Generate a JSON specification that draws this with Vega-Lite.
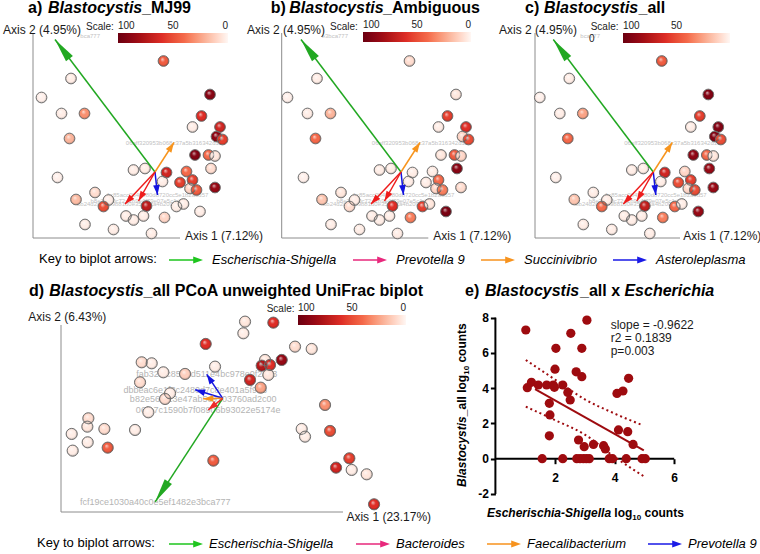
{
"$schema": "https://vega.github.io/schema/vega-lite/v6.json",
"padding": 0,
"background": "white",
"config": {"font": "Liberation Sans", "view": {"stroke": null}},
"datasets": {
"abc": [
{"X":0.017,"Y":0.222,"MJ99":45,"Ambiguous":8,"all":45},
{"X":-0.168,"Y":0.187,"MJ99":3,"Ambiguous":3,"all":3},
{"X":-0.227,"Y":0.149,"MJ99":2,"Ambiguous":2,"all":2},
{"X":-0.187,"Y":0.117,"MJ99":3,"Ambiguous":3,"all":3},
{"X":-0.141,"Y":0.117,"MJ99":30,"Ambiguous":20,"all":25},
{"X":0.110,"Y":0.155,"MJ99":90,"Ambiguous":5,"all":92},
{"X":0.093,"Y":0.112,"MJ99":60,"Ambiguous":55,"all":55},
{"X":0.075,"Y":0.090,"MJ99":3,"Ambiguous":3,"all":3},
{"X":0.130,"Y":0.090,"MJ99":65,"Ambiguous":60,"all":92},
{"X":0.123,"Y":0.071,"MJ99":88,"Ambiguous":10,"all":92},
{"X":0.135,"Y":0.065,"MJ99":55,"Ambiguous":50,"all":50},
{"X":-0.171,"Y":0.067,"MJ99":20,"Ambiguous":40,"all":40},
{"X":0.080,"Y":0.034,"MJ99":92,"Ambiguous":5,"all":88},
{"X":0.107,"Y":0.034,"MJ99":40,"Ambiguous":45,"all":40},
{"X":0.120,"Y":0.032,"MJ99":5,"Ambiguous":10,"all":5},
{"X":0.112,"Y":0.007,"MJ99":8,"Ambiguous":90,"all":85},
{"X":0.023,"Y":-0.001,"MJ99":65,"Ambiguous":3,"all":65},
{"X":0.063,"Y":0.001,"MJ99":40,"Ambiguous":3,"all":10},
{"X":-0.043,"Y":0.004,"MJ99":3,"Ambiguous":3,"all":3},
{"X":-0.020,"Y":0.007,"MJ99":3,"Ambiguous":3,"all":3},
{"X":-0.195,"Y":-0.011,"MJ99":2,"Ambiguous":2,"all":2},
{"X":0.015,"Y":-0.019,"MJ99":3,"Ambiguous":3,"all":3},
{"X":0.050,"Y":-0.021,"MJ99":55,"Ambiguous":3,"all":50},
{"X":0.075,"Y":-0.016,"MJ99":55,"Ambiguous":40,"all":55},
{"X":0.070,"Y":-0.033,"MJ99":10,"Ambiguous":10,"all":10},
{"X":0.083,"Y":-0.036,"MJ99":45,"Ambiguous":35,"all":50},
{"X":0.120,"Y":-0.031,"MJ99":85,"Ambiguous":8,"all":85},
{"X":-0.120,"Y":-0.041,"MJ99":8,"Ambiguous":5,"all":3},
{"X":-0.158,"Y":-0.055,"MJ99":18,"Ambiguous":15,"all":15},
{"X":-0.093,"Y":-0.056,"MJ99":3,"Ambiguous":3,"all":3},
{"X":-0.103,"Y":-0.069,"MJ99":50,"Ambiguous":8,"all":40},
{"X":-0.017,"Y":-0.068,"MJ99":72,"Ambiguous":60,"all":70},
{"X":0.043,"Y":-0.069,"MJ99":3,"Ambiguous":55,"all":40},
{"X":0.057,"Y":-0.064,"MJ99":3,"Ambiguous":5,"all":3},
{"X":-0.058,"Y":-0.088,"MJ99":3,"Ambiguous":3,"all":3},
{"X":-0.043,"Y":-0.096,"MJ99":3,"Ambiguous":3,"all":3},
{"X":-0.023,"Y":-0.088,"MJ99":3,"Ambiguous":3,"all":3},
{"X":0.019,"Y":-0.091,"MJ99":10,"Ambiguous":35,"all":35},
{"X":0.090,"Y":-0.079,"MJ99":3,"Ambiguous":95,"all":85},
{"X":-0.140,"Y":-0.105,"MJ99":3,"Ambiguous":3,"all":3},
{"X":-0.083,"Y":-0.115,"MJ99":3,"Ambiguous":3,"all":3},
{"X":-0.007,"Y":-0.123,"MJ99":3,"Ambiguous":3,"all":3}
],
"arrABC": [
{"feature":"fcf19ce1030a40c0e5ef1482e3bca777","genus":"Escherischia-Shigella","X0":0,"Y0":0,"X":-0.200,"Y":0.265},
{"feature":"06aff320953b068c37a5b316342d1e","genus":"Succinivibrio","X0":0,"Y0":0,"X":0.038,"Y":0.059},
{"feature":"1c85acc0b49480d8720cc5e1b2a9d57","genus":"Asteroleplasma","X0":0,"Y0":0,"X":0.005,"Y":-0.046},
{"feature":"bb24d2c6f1a9b81d0e35f7c2a4b200","genus":"Prevotella 9","X0":0,"Y0":0,"X":-0.060,"Y":-0.064},
{"feature":"b8e7d3f0c72a1b9e4f79e07e5c1d8a","genus":"Prevotella 9","X0":0,"Y0":0,"X":-0.033,"Y":-0.058}
],
"ptsD": [
{"X":0.0447,"Y":0.1533,"all":5},
{"X":0.1013,"Y":0.1513,"all":60},
{"X":0.0413,"Y":0.13,"all":3},
{"X":-0.034,"Y":0.1087,"all":60},
{"X":0.1447,"Y":0.1033,"all":8},
{"X":0.178,"Y":0.0987,"all":5},
{"X":0.118,"Y":0.0767,"all":85},
{"X":0.0847,"Y":0.0767,"all":5},
{"X":0.078,"Y":0.0653,"all":75},
{"X":0.0947,"Y":0.0667,"all":60},
{"X":0.0913,"Y":0.0467,"all":5},
{"X":0.0547,"Y":0.0367,"all":65},
{"X":0.0760,"Y":0.0213,"all":25},
{"X":-0.0153,"Y":0.0633,"all":3},
{"X":-0.0753,"Y":0.0487,"all":12},
{"X":-0.1187,"Y":0.052,"all":3},
{"X":-0.162,"Y":0.072,"all":8},
{"X":-0.142,"Y":0.07,"all":3},
{"X":-0.1653,"Y":0.032,"all":8},
{"X":-0.1053,"Y":0.01,"all":3},
{"X":-0.1153,"Y":-0.0013,"all":8},
{"X":-0.1487,"Y":-0.028,"all":3},
{"X":-0.1753,"Y":-0.0633,"all":3},
{"X":-0.2687,"Y":-0.04,"all":8},
{"X":-0.2707,"Y":-0.0567,"all":5},
{"X":-0.2367,"Y":-0.0613,"all":8},
{"X":-0.302,"Y":-0.0713,"all":3},
{"X":-0.27,"Y":-0.088,"all":3},
{"X":-0.3,"Y":-0.1047,"all":3},
{"X":-0.23,"Y":-0.0987,"all":45},
{"X":-0.0187,"Y":-0.1247,"all":45},
{"X":0.2047,"Y":-0.0133,"all":30},
{"X":0.2147,"Y":-0.0653,"all":50},
{"X":0.158,"Y":-0.0613,"all":3},
{"X":0.1647,"Y":-0.0767,"all":3},
{"X":0.2533,"Y":-0.12,"all":55},
{"X":0.2267,"Y":-0.1387,"all":65},
{"X":0.258,"Y":-0.1433,"all":3},
{"X":0.288,"Y":-0.152,"all":5},
{"X":0.3027,"Y":-0.212,"all":60}
],
"arrD": [
{"feature":"fcf19ce1030a40c0e5ef1482e3bca777","genus":"Escherischia-Shigella","X0":0,"Y0":0,"X":-0.135,"Y":-0.207},
{"feature":"fab32f1c8575d511e4bc978e0f2a13","genus":"Prevotella 9","X0":0,"Y0":0,"X":-0.032,"Y":0.048},
{"feature":"dbbeac6e1f3c2480d7c8e401a5f996","genus":"Prevotella 9","X0":0,"Y0":0,"X":-0.055,"Y":0.017},
{"feature":"b82e569f13e47ab5c9103760ad2c00","genus":"Faecalibacterium","X0":0,"Y0":0,"X":-0.039,"Y":-0.001},
{"feature":"06fa7c1590b7f08906b93022e5174e","genus":"Bacteroides","X0":0,"Y0":0,"X":-0.029,"Y":-0.023}
],
"esc": [
{"x":1.02,"y":7.30},{"x":1.07,"y":4.03},{"x":1.21,"y":4.33},{"x":1.44,"y":4.18},{"x":1.57,"y":0},
{"x":1.72,"y":4.18},{"x":1.81,"y":3.14},{"x":1.83,"y":2.48},{"x":1.81,"y":1.30},{"x":1.94,"y":4.18},
{"x":1.98,"y":4.05},{"x":2.00,"y":5.08},{"x":2.03,"y":6.26},{"x":2.26,"y":0},{"x":2.26,"y":4.18},
{"x":2.43,"y":3.76},{"x":2.51,"y":3.33},{"x":2.53,"y":7.11},{"x":2.71,"y":4.93},{"x":2.79,"y":1.06},
{"x":2.73,"y":0},{"x":2.90,"y":4.65},{"x":2.90,"y":6.26},{"x":2.84,"y":0},{"x":2.98,"y":0.68},
{"x":3.07,"y":7.86},{"x":2.95,"y":0},{"x":3.05,"y":0},{"x":3.15,"y":0},{"x":3.29,"y":0.81},
{"x":3.63,"y":0.74},{"x":3.69,"y":0.55},{"x":3.82,"y":0},{"x":3.93,"y":0},{"x":4.08,"y":3.70},
{"x":4.28,"y":3.84},{"x":4.39,"y":0},{"x":4.47,"y":4.56},{"x":4.13,"y":1.63},{"x":4.44,"y":1.53},
{"x":4.62,"y":0.81},{"x":4.92,"y":0},{"x":5.03,"y":0}
],
"reg": [{"x":1.33,"y":3.95},{"x":4.98,"y":0.47}],
"band": [
{"x":1.02,"y":5.6,"b":"upper"},{"x":2,"y":4.49,"b":"upper"},{"x":3,"y":3.37,"b":"upper"},{"x":4,"y":2.56,"b":"upper"},{"x":4.92,"y":1.91,"b":"upper"},
{"x":1.02,"y":2.95,"b":"lower"},{"x":2,"y":2.19,"b":"lower"},{"x":3,"y":1.37,"b":"lower"},{"x":4,"y":0.1,"b":"lower"},{"x":5.0,"y":-1.02,"b":"lower"}
],
"key1": [{"genus":"Escherischia-Shigella"},{"genus":"Prevotella 9"},{"genus":"Succinivibrio"},{"genus":"Asteroleplasma"}],
"key2": [{"genus":"Escherischia-Shigella"},{"genus":"Bacteroides"},{"genus":"Faecalibacterium"},{"genus":"Prevotella 9"}]
},
"spacing": 0,
"resolve": {"scale": {"x": "independent", "y": "independent", "color": "independent", "fill": "independent", "stroke": "independent"}, "legend": {"color": "independent"}},
"vconcat": [
{
"spacing": 0,
"bounds": "flush",
"resolve": {"scale": {"x": "independent", "y": "independent", "color": "independent", "fill": "independent", "stroke": "independent"}, "legend": {"color": "independent"}},
"hconcat": [
{
"width": 250, "height": 245,
"encoding": {
"x": {"field": "X", "type": "quantitative", "scale": {"domain": [-0.31, 0.19], "nice": false, "zero": false}, "axis": null},
"y": {"field": "Y", "type": "quantitative", "scale": {"domain": [-0.146, 0.344], "nice": false, "zero": false}, "axis": null}
},
"layer": [
{"data": {"values": [{"X":-0.244,"Y":0.278,"X2":-0.244,"Y2":-0.132},{"X":-0.244,"Y":-0.132,"X2":0.05,"Y2":-0.132}]}, "mark": {"type": "rule", "color": "#8c8c8c", "strokeWidth": 1}, "encoding": {"x2": {"field": "X2"}, "y2": {"field": "Y2"}}},
{"data": {"name": "arrABC"}, "transform": [{"filter": "datum.genus !== 'Escherischia-Shigella'"}], "mark": {"type": "text", "fontSize": 6, "color": "#c2c2c2", "align": "center", "baseline": "middle"}, "encoding": {"text": {"field": "feature", "type": "nominal"}}},
{"data": {"values": [{"X":-0.11,"Y":0.272,"t":"bca777"}]}, "mark": {"type": "text", "fontSize": 6, "color": "#c2c2c2", "align": "right", "baseline": "middle"}, "encoding": {"text": {"field": "t", "type": "nominal"}}},
{"data": {"name": "abc"}, "mark": {"type": "point", "shape": "circle", "filled": true, "size": 115, "opacity": 1, "strokeWidth": 0},
 "encoding": {"color": {"field": "MJ99", "type": "quantitative", "scale": {"domain": [100, 0], "range": ["#6b0010","#a50f15","#de2d26","#f4694a","#fbb59c","#fff7f4"], "nice": false, "zero": false},
   "legend": {"orient": "none", "legendX": 118, "legendY": 33, "direction": "horizontal", "title": null, "gradientLength": 110, "gradientThickness": 10, "gradientStrokeWidth": 0, "labelOffset": -22, "labelFontSize": 10, "labelColor": "#222222", "values": [100, 50, 0], "labelOverlap": false}}}},
{"data": {"name": "abc"}, "mark": {"type": "point", "shape": "circle", "filled": true, "size": 115, "opacity": 1, "stroke": "#6f6f6f", "strokeWidth": 1, "strokeOpacity": 1,
 "fill": {"gradient": "radial", "x1": 0.38, "y1": 0.32, "r1": 0, "x2": 0.5, "y2": 0.5, "r2": 0.5, "stops": [{"offset": 0, "color": "rgba(255,255,255,0.7)"}, {"offset": 0.45, "color": "rgba(255,255,255,0)"}, {"offset": 0.75, "color": "rgba(0,0,0,0)"}, {"offset": 1, "color": "rgba(0,0,0,0.3)"}]}}},
{"data": {"name": "arrABC"}, "mark": {"type": "rule", "strokeWidth": 1.5}, "encoding": {"x": {"field": "X0", "type": "quantitative"}, "y": {"field": "Y0", "type": "quantitative"}, "x2": {"field": "X"}, "y2": {"field": "Y"}, "stroke": {"field": "genus", "type": "nominal", "scale": {"domain": ["Escherischia-Shigella","Prevotella 9","Succinivibrio","Asteroleplasma"], "range": ["#22a822","#ee1c1c","#f7941d","#1414e0"]}, "legend": null}}},
{"data": {"name": "arrABC"}, "transform": [{"filter": "datum.genus === 'Escherischia-Shigella'"}, {"calculate": "atan2(datum.X, datum.Y) * 180 / PI", "as": "angle"}], "mark": {"type": "point", "filled": true, "opacity": 1, "shape": "M0,0L-0.18,1L0.18,1Z", "size": 2304, "strokeWidth": 0}, "encoding": {"angle": {"field": "angle", "type": "quantitative", "scale": null}, "fill": {"field": "genus", "type": "nominal", "scale": {"domain": ["Escherischia-Shigella","Prevotella 9","Succinivibrio","Asteroleplasma"], "range": ["#22a822","#ee1c1c","#f7941d","#1414e0"]}, "legend": null}}},
{"data": {"name": "arrABC"}, "transform": [{"filter": "datum.genus !== 'Escherischia-Shigella'"}, {"calculate": "atan2(datum.X, datum.Y) * 180 / PI", "as": "angle"}], "mark": {"type": "point", "filled": true, "opacity": 1, "shape": "M0,0L-0.33,1L0.33,1Z", "size": 400, "strokeWidth": 0}, "encoding": {"angle": {"field": "angle", "type": "quantitative", "scale": null}, "fill": {"field": "genus", "type": "nominal", "scale": {"domain": ["Escherischia-Shigella","Prevotella 9","Succinivibrio","Asteroleplasma"], "range": ["#22a822","#ee1c1c","#f7941d","#1414e0"]}, "legend": null}}},
{"data": {"values": [{"X":-0.254,"Y":0.3174,"t":"a)"},{"X":-0.026,"Y":0.3174,"t":"_MJ99"}]}, "mark": {"type": "text", "fontSize": 16, "fontWeight": "bold", "align": "left", "baseline": "alphabetic", "color": "black"}, "encoding": {"text": {"field": "t", "type": "nominal"}}},
{"data": {"values": [{"X":-0.214,"Y":0.3174,"t":"Blastocystis"}]}, "mark": {"type": "text", "fontSize": 16, "fontWeight": "bold", "fontStyle": "italic", "align": "left", "baseline": "alphabetic", "color": "black"}, "encoding": {"text": {"field": "t", "type": "nominal"}}},
{"data": {"values": [{"X":-0.304,"Y":0.284,"t":"Axis 2 (4.95%)"},{"X":0.06,"Y":-0.128,"t":"Axis 1 (7.12%)"}]}, "mark": {"type": "text", "fontSize": 12, "align": "left", "baseline": "middle", "color": "#1a1a1a"}, "encoding": {"text": {"field": "t", "type": "nominal"}}},
{"data": {"values": [{"X":-0.138,"Y":0.2848,"t":"Scale:"}]}, "mark": {"type": "text", "fontSize": 10, "align": "left", "baseline": "alphabetic", "color": "#222222"}, "encoding": {"text": {"field": "t", "type": "nominal"}}}
]
},
{
"width": 250, "height": 245,
"encoding": {
"x": {"field": "X", "type": "quantitative", "scale": {"domain": [-0.302, 0.198], "nice": false, "zero": false}, "axis": null},
"y": {"field": "Y", "type": "quantitative", "scale": {"domain": [-0.146, 0.344], "nice": false, "zero": false}, "axis": null}
},
"layer": [
{"data": {"values": [{"X":-0.2386,"Y":0.278,"X2":-0.2386,"Y2":-0.132},{"X":-0.2386,"Y":-0.132,"X2":0.0546,"Y2":-0.132}]}, "mark": {"type": "rule", "color": "#8c8c8c", "strokeWidth": 1}, "encoding": {"x2": {"field": "X2"}, "y2": {"field": "Y2"}}},
{"data": {"name": "arrABC"}, "transform": [{"filter": "datum.genus !== 'Escherischia-Shigella'"}], "mark": {"type": "text", "fontSize": 6, "color": "#c2c2c2", "align": "center", "baseline": "middle"}, "encoding": {"text": {"field": "feature", "type": "nominal"}}},
{"data": {"values": [{"X":-0.106,"Y":0.272,"t":"e3bca777"}]}, "mark": {"type": "text", "fontSize": 6, "color": "#c2c2c2", "align": "right", "baseline": "middle"}, "encoding": {"text": {"field": "t", "type": "nominal"}}},
{"data": {"name": "abc"}, "mark": {"type": "point", "shape": "circle", "filled": true, "size": 115, "opacity": 1, "strokeWidth": 0},
 "encoding": {"color": {"field": "Ambiguous", "type": "quantitative", "scale": {"domain": [100, 0], "range": ["#6b0010","#a50f15","#de2d26","#f4694a","#fbb59c","#fff7f4"], "nice": false, "zero": false},
   "legend": {"orient": "none", "legendX": 113, "legendY": 32, "direction": "horizontal", "title": null, "gradientLength": 108, "gradientThickness": 10, "gradientStrokeWidth": 0, "labelOffset": -22, "labelFontSize": 10, "labelColor": "#222222", "values": [100, 50, 0], "labelOverlap": false}}}},
{"data": {"name": "abc"}, "mark": {"type": "point", "shape": "circle", "filled": true, "size": 115, "opacity": 1, "stroke": "#6f6f6f", "strokeWidth": 1, "strokeOpacity": 1,
 "fill": {"gradient": "radial", "x1": 0.38, "y1": 0.32, "r1": 0, "x2": 0.5, "y2": 0.5, "r2": 0.5, "stops": [{"offset": 0, "color": "rgba(255,255,255,0.7)"}, {"offset": 0.45, "color": "rgba(255,255,255,0)"}, {"offset": 0.75, "color": "rgba(0,0,0,0)"}, {"offset": 1, "color": "rgba(0,0,0,0.3)"}]}}},
{"data": {"name": "arrABC"}, "mark": {"type": "rule", "strokeWidth": 1.5}, "encoding": {"x": {"field": "X0", "type": "quantitative"}, "y": {"field": "Y0", "type": "quantitative"}, "x2": {"field": "X"}, "y2": {"field": "Y"}, "stroke": {"field": "genus", "type": "nominal", "scale": {"domain": ["Escherischia-Shigella","Prevotella 9","Succinivibrio","Asteroleplasma"], "range": ["#22a822","#ee1c1c","#f7941d","#1414e0"]}, "legend": null}}},
{"data": {"name": "arrABC"}, "transform": [{"filter": "datum.genus === 'Escherischia-Shigella'"}, {"calculate": "atan2(datum.X, datum.Y) * 180 / PI", "as": "angle"}], "mark": {"type": "point", "filled": true, "opacity": 1, "shape": "M0,0L-0.18,1L0.18,1Z", "size": 2304, "strokeWidth": 0}, "encoding": {"angle": {"field": "angle", "type": "quantitative", "scale": null}, "fill": {"field": "genus", "type": "nominal", "scale": {"domain": ["Escherischia-Shigella","Prevotella 9","Succinivibrio","Asteroleplasma"], "range": ["#22a822","#ee1c1c","#f7941d","#1414e0"]}, "legend": null}}},
{"data": {"name": "arrABC"}, "transform": [{"filter": "datum.genus !== 'Escherischia-Shigella'"}, {"calculate": "atan2(datum.X, datum.Y) * 180 / PI", "as": "angle"}], "mark": {"type": "point", "filled": true, "opacity": 1, "shape": "M0,0L-0.33,1L0.33,1Z", "size": 400, "strokeWidth": 0}, "encoding": {"angle": {"field": "angle", "type": "quantitative", "scale": null}, "fill": {"field": "genus", "type": "nominal", "scale": {"domain": ["Escherischia-Shigella","Prevotella 9","Succinivibrio","Asteroleplasma"], "range": ["#22a822","#ee1c1c","#f7941d","#1414e0"]}, "legend": null}}},
{"data": {"values": [{"X":-0.2606,"Y":0.3174,"t":"b)"},{"X":-0.036,"Y":0.3174,"t":"_Ambiguous"}]}, "mark": {"type": "text", "fontSize": 16, "fontWeight": "bold", "align": "left", "baseline": "alphabetic", "color": "black"}, "encoding": {"text": {"field": "t", "type": "nominal"}}},
{"data": {"values": [{"X":-0.2234,"Y":0.3174,"t":"Blastocystis"}]}, "mark": {"type": "text", "fontSize": 16, "fontWeight": "bold", "fontStyle": "italic", "align": "left", "baseline": "alphabetic", "color": "black"}, "encoding": {"text": {"field": "t", "type": "nominal"}}},
{"data": {"values": [{"X":-0.308,"Y":0.284,"t":"Axis 2 (4.95%)"},{"X":0.0646,"Y":-0.128,"t":"Axis 1 (7.12%)"}]}, "mark": {"type": "text", "fontSize": 12, "align": "left", "baseline": "middle", "color": "#1a1a1a"}, "encoding": {"text": {"field": "t", "type": "nominal"}}},
{"data": {"values": [{"X":-0.142,"Y":0.2848,"t":"Scale:"}]}, "mark": {"type": "text", "fontSize": 10, "align": "left", "baseline": "alphabetic", "color": "#222222"}, "encoding": {"text": {"field": "t", "type": "nominal"}}}
]
},
{
"width": 260, "height": 245,
"encoding": {
"x": {"field": "X", "type": "quantitative", "scale": {"domain": [-0.3066, 0.2134], "nice": false, "zero": false}, "axis": null},
"y": {"field": "Y", "type": "quantitative", "scale": {"domain": [-0.146, 0.344], "nice": false, "zero": false}, "axis": null}
},
"layer": [
{"data": {"values": [{"X":-0.2366,"Y":0.278,"X2":-0.2366,"Y2":-0.132},{"X":-0.2366,"Y":-0.132,"X2":0.0534,"Y2":-0.132}]}, "mark": {"type": "rule", "color": "#8c8c8c", "strokeWidth": 1}, "encoding": {"x2": {"field": "X2"}, "y2": {"field": "Y2"}}},
{"data": {"name": "arrABC"}, "transform": [{"filter": "datum.genus !== 'Escherischia-Shigella'"}], "mark": {"type": "text", "fontSize": 6, "color": "#c2c2c2", "align": "center", "baseline": "middle"}, "encoding": {"text": {"field": "feature", "type": "nominal"}}},
{"data": {"values": [{"X":-0.1066,"Y":0.272,"t":"bca777"}]}, "mark": {"type": "text", "fontSize": 6, "color": "#c2c2c2", "align": "right", "baseline": "middle"}, "encoding": {"text": {"field": "t", "type": "nominal"}}},
{"data": {"name": "abc"}, "mark": {"type": "point", "shape": "circle", "filled": true, "size": 115, "opacity": 1, "strokeWidth": 0},
 "encoding": {"color": {"field": "all", "type": "quantitative", "scale": {"domain": [100, 0], "range": ["#6b0010","#a50f15","#de2d26","#f4694a","#fbb59c","#fff7f4"], "nice": false, "zero": false},
   "legend": {"orient": "none", "legendX": 123, "legendY": 33, "direction": "horizontal", "title": null, "gradientLength": 107, "gradientThickness": 10, "gradientStrokeWidth": 0, "labelOffset": -22, "labelFontSize": 10, "labelColor": "#222222", "values": [100, 50], "labelOverlap": false}}}},
{"data": {"name": "abc"}, "mark": {"type": "point", "shape": "circle", "filled": true, "size": 115, "opacity": 1, "stroke": "#6f6f6f", "strokeWidth": 1, "strokeOpacity": 1,
 "fill": {"gradient": "radial", "x1": 0.38, "y1": 0.32, "r1": 0, "x2": 0.5, "y2": 0.5, "r2": 0.5, "stops": [{"offset": 0, "color": "rgba(255,255,255,0.7)"}, {"offset": 0.45, "color": "rgba(255,255,255,0)"}, {"offset": 0.75, "color": "rgba(0,0,0,0)"}, {"offset": 1, "color": "rgba(0,0,0,0.3)"}]}}},
{"data": {"name": "arrABC"}, "mark": {"type": "rule", "strokeWidth": 1.5}, "encoding": {"x": {"field": "X0", "type": "quantitative"}, "y": {"field": "Y0", "type": "quantitative"}, "x2": {"field": "X"}, "y2": {"field": "Y"}, "stroke": {"field": "genus", "type": "nominal", "scale": {"domain": ["Escherischia-Shigella","Prevotella 9","Succinivibrio","Asteroleplasma"], "range": ["#22a822","#ee1c1c","#f7941d","#1414e0"]}, "legend": null}}},
{"data": {"name": "arrABC"}, "transform": [{"filter": "datum.genus === 'Escherischia-Shigella'"}, {"calculate": "atan2(datum.X, datum.Y) * 180 / PI", "as": "angle"}], "mark": {"type": "point", "filled": true, "opacity": 1, "shape": "M0,0L-0.18,1L0.18,1Z", "size": 2304, "strokeWidth": 0}, "encoding": {"angle": {"field": "angle", "type": "quantitative", "scale": null}, "fill": {"field": "genus", "type": "nominal", "scale": {"domain": ["Escherischia-Shigella","Prevotella 9","Succinivibrio","Asteroleplasma"], "range": ["#22a822","#ee1c1c","#f7941d","#1414e0"]}, "legend": null}}},
{"data": {"name": "arrABC"}, "transform": [{"filter": "datum.genus !== 'Escherischia-Shigella'"}, {"calculate": "atan2(datum.X, datum.Y) * 180 / PI", "as": "angle"}], "mark": {"type": "point", "filled": true, "opacity": 1, "shape": "M0,0L-0.33,1L0.33,1Z", "size": 400, "strokeWidth": 0}, "encoding": {"angle": {"field": "angle", "type": "quantitative", "scale": null}, "fill": {"field": "genus", "type": "nominal", "scale": {"domain": ["Escherischia-Shigella","Prevotella 9","Succinivibrio","Asteroleplasma"], "range": ["#22a822","#ee1c1c","#f7941d","#1414e0"]}, "legend": null}}},
{"data": {"values": [{"X":-0.2566,"Y":0.3174,"t":"c)"},{"X":-0.0296,"Y":0.3174,"t":"_all"}]}, "mark": {"type": "text", "fontSize": 16, "fontWeight": "bold", "align": "left", "baseline": "alphabetic", "color": "black"}, "encoding": {"text": {"field": "t", "type": "nominal"}}},
{"data": {"values": [{"X":-0.2186,"Y":0.3174,"t":"Blastocystis"}]}, "mark": {"type": "text", "fontSize": 16, "fontWeight": "bold", "fontStyle": "italic", "align": "left", "baseline": "alphabetic", "color": "black"}, "encoding": {"text": {"field": "t", "type": "nominal"}}},
{"data": {"values": [{"X":-0.3086,"Y":0.284,"t":"Axis 2 (4.95%)"},{"X":0.06,"Y":-0.128,"t":"Axis 1 (7.12%)"}]}, "mark": {"type": "text", "fontSize": 12, "align": "left", "baseline": "middle", "color": "#1a1a1a"}, "encoding": {"text": {"field": "t", "type": "nominal"}}},
{"data": {"values": [{"X":-0.1252,"Y":0.2848,"t":"Scale:"},{"X":-0.1286,"Y":0.261,"t":"0"}]}, "mark": {"type": "text", "fontSize": 10, "align": "left", "baseline": "alphabetic", "color": "#222222"}, "encoding": {"text": {"field": "t", "type": "nominal"}}}
]
}
]
},
{
"width": 760, "height": 27,
"data": {"name": "key1"},
"mark": {"type": "text", "text": ""},
"encoding": {
"color": {"field": "genus", "type": "nominal",
 "scale": {"domain": ["Escherischia-Shigella","Prevotella 9","Succinivibrio","Asteroleplasma"], "range": ["#1ec51e","#e8287c","#f7931e","#1a1ae6"]},
 "legend": {"orient": "none", "legendX": 39, "legendY": 5, "direction": "horizontal", "title": "Key to biplot arrows:", "titleOrient": "left", "titleAnchor": "middle", "titleBaseline": "middle", "titleFontSize": 13, "titleFontWeight": "normal", "titleColor": "black", "titlePadding": 19, "titleLimit": 0, "labelFontSize": 13, "labelFontStyle": "italic", "labelColor": "black", "labelLimit": 0, "labelOffset": 16, "columnPadding": 16, "symbolType": "M-1.7,-0.075L0.72,-0.075L0.72,-0.34L1.7,0L0.72,0.34L0.72,0.075L-1.7,0.075Z", "symbolSize": 400, "symbolStrokeWidth": 0, "symbolOpacity": 1}}
}
},
{
"spacing": 0,
"bounds": "flush",
"resolve": {"scale": {"x": "independent", "y": "independent", "color": "independent", "fill": "independent", "stroke": "independent"}, "legend": {"color": "independent"}},
"hconcat": [
{
"width": 440, "height": 255,
"encoding": {
"x": {"field": "X", "type": "quantitative", "scale": {"domain": [-0.4454, 0.4346], "nice": false, "zero": false}, "axis": null},
"y": {"field": "Y", "type": "quantitative", "scale": {"domain": [-0.2574, 0.2526], "nice": false, "zero": false}, "axis": null}
},
"layer": [
{"data": {"values": [{"X":-0.3234,"Y":0.1466,"X2":-0.3234,"Y2":-0.2274},{"X":-0.3234,"Y":-0.2274,"X2":0.2406,"Y2":-0.2274}]}, "mark": {"type": "rule", "color": "#8c8c8c", "strokeWidth": 1}, "encoding": {"x2": {"field": "X2"}, "y2": {"field": "Y2"}}},
{"data": {"name": "arrD"}, "mark": {"type": "text", "fontSize": 9, "color": "#b4b4b4", "align": "center", "baseline": "middle"}, "encoding": {"text": {"field": "feature", "type": "nominal"}}},
{"data": {"name": "ptsD"}, "mark": {"type": "point", "shape": "circle", "filled": true, "size": 125, "opacity": 1, "strokeWidth": 0},
 "encoding": {"color": {"field": "all", "type": "quantitative", "scale": {"domain": [100, 0], "range": ["#6b0010","#a50f15","#de2d26","#f4694a","#fbb59c","#fff7f4"], "nice": false, "zero": false},
   "legend": {"orient": "none", "legendX": 298, "legendY": 43, "direction": "horizontal", "title": null, "gradientLength": 108, "gradientThickness": 10, "gradientStrokeWidth": 0, "labelOffset": -22, "labelFontSize": 10, "labelColor": "#222222", "values": [100, 50, 0], "labelOverlap": false}}}},
{"data": {"name": "ptsD"}, "mark": {"type": "point", "shape": "circle", "filled": true, "size": 125, "opacity": 1, "stroke": "#6f6f6f", "strokeWidth": 1, "strokeOpacity": 1,
 "fill": {"gradient": "radial", "x1": 0.38, "y1": 0.32, "r1": 0, "x2": 0.5, "y2": 0.5, "r2": 0.5, "stops": [{"offset": 0, "color": "rgba(255,255,255,0.7)"}, {"offset": 0.45, "color": "rgba(255,255,255,0)"}, {"offset": 0.75, "color": "rgba(0,0,0,0)"}, {"offset": 1, "color": "rgba(0,0,0,0.3)"}]}}},
{"data": {"name": "arrD"}, "mark": {"type": "rule", "strokeWidth": 1.5}, "encoding": {"x": {"field": "X0", "type": "quantitative"}, "y": {"field": "Y0", "type": "quantitative"}, "x2": {"field": "X"}, "y2": {"field": "Y"}, "stroke": {"field": "genus", "type": "nominal", "scale": {"domain": ["Escherischia-Shigella","Bacteroides","Faecalibacterium","Prevotella 9"], "range": ["#22a822","#ee2a2a","#f7941d","#1414e0"]}, "legend": null}}},
{"data": {"name": "arrD"}, "transform": [{"filter": "datum.genus === 'Escherischia-Shigella'"}, {"calculate": "atan2(datum.X, datum.Y) * 180 / PI", "as": "angle"}], "mark": {"type": "point", "filled": true, "opacity": 1, "shape": "M0,0L-0.18,1L0.18,1Z", "size": 2304, "strokeWidth": 0}, "encoding": {"angle": {"field": "angle", "type": "quantitative", "scale": null}, "fill": {"field": "genus", "type": "nominal", "scale": {"domain": ["Escherischia-Shigella","Bacteroides","Faecalibacterium","Prevotella 9"], "range": ["#22a822","#ee2a2a","#f7941d","#1414e0"]}, "legend": null}}},
{"data": {"name": "arrD"}, "transform": [{"filter": "datum.genus !== 'Escherischia-Shigella'"}, {"calculate": "atan2(datum.X, datum.Y) * 180 / PI", "as": "angle"}], "mark": {"type": "point", "filled": true, "opacity": 1, "shape": "M0,0L-0.33,1L0.33,1Z", "size": 400, "strokeWidth": 0}, "encoding": {"angle": {"field": "angle", "type": "quantitative", "scale": null}, "fill": {"field": "genus", "type": "nominal", "scale": {"domain": ["Escherischia-Shigella","Bacteroides","Faecalibacterium","Prevotella 9"], "range": ["#22a822","#ee2a2a","#f7941d","#1414e0"]}, "legend": null}}},
{"data": {"values": [{"X":-0.3874,"Y":0.2052,"t":"d)"},{"X":-0.1582,"Y":0.2052,"t":"_all PCoA unweighted UniFrac biplot"}]}, "mark": {"type": "text", "fontSize": 16, "fontWeight": "bold", "align": "left", "baseline": "alphabetic", "color": "black"}, "encoding": {"text": {"field": "t", "type": "nominal"}}},
{"data": {"values": [{"X":-0.3468,"Y":0.2052,"t":"Blastocystis"}]}, "mark": {"type": "text", "fontSize": 16, "fontWeight": "bold", "fontStyle": "italic", "align": "left", "baseline": "alphabetic", "color": "black"}, "encoding": {"text": {"field": "t", "type": "nominal"}}},
{"data": {"values": [{"X":-0.3888,"Y":0.1632,"t":"Axis 2 (6.43%)"},{"X":0.2474,"Y":-0.2368,"t":"Axis 1 (23.17%)"}]}, "mark": {"type": "text", "fontSize": 12, "align": "left", "baseline": "middle", "color": "#1a1a1a"}, "encoding": {"text": {"field": "t", "type": "nominal"}}},
{"data": {"values": [{"X":0.088,"Y":0.1728,"t":"Scale:"}]}, "mark": {"type": "text", "fontSize": 10, "align": "left", "baseline": "alphabetic", "color": "#222222"}, "encoding": {"text": {"field": "t", "type": "nominal"}}}
]
},
{
"width": 320, "height": 255,
"encoding": {
"x": {"field": "x", "type": "quantitative", "scale": {"domain": [-1.859, 8.879], "nice": false, "zero": false},
 "axis": {"values": [2, 4, 6], "domain": false, "grid": false, "offset": -68.3, "title": null, "ticks": true, "tickSize": 5, "tickWidth": 2, "tickColor": "black", "labelFontSize": 12, "labelFontWeight": "bold", "labelColor": "black", "labelPadding": 9, "labelFlush": false, "labelOverlap": false, "labelExpr": "'' + datum.value"}},
"y": {"field": "y", "type": "quantitative", "scale": {"domain": [-3.874, 10.59], "nice": false, "zero": false},
 "axis": {"values": [-2, 0, 2, 4, 6, 8], "domain": false, "grid": false, "offset": -55.4, "title": null, "ticks": true, "tickSize": 5, "tickWidth": 2, "tickColor": "black", "labelFontSize": 12, "labelFontWeight": "bold", "labelColor": "black", "labelPadding": 2, "labelFlush": false, "labelOverlap": false, "labelExpr": "'' + datum.value"}}
},
"layer": [
{"data": {"values": [{"x":0,"y":-2,"x2":0,"y2":8},{"x":0,"y":0,"x2":6,"y2":0}]}, "mark": {"type": "rule", "color": "black", "strokeWidth": 2}, "encoding": {"x2": {"field": "x2"}, "y2": {"field": "y2"}}},
{"data": {"name": "band"}, "mark": {"type": "line", "color": "#9e0b0f", "strokeWidth": 2, "strokeDash": [2, 3], "interpolate": "monotone"}, "encoding": {"detail": {"field": "b", "type": "nominal"}}},
{"data": {"name": "reg"}, "mark": {"type": "line", "color": "#9e0b0f", "strokeWidth": 2}},
{"data": {"name": "esc"}, "mark": {"type": "point", "shape": "circle", "filled": true, "size": 85, "opacity": 1, "color": "#9e0b0f", "strokeWidth": 0}},
{"data": {"values": [{"x":-1.02,"y":9.245,"t":"e)"},{"x":2.839,"y":9.245,"t":"_all x"}]}, "mark": {"type": "text", "fontSize": 16, "fontWeight": "bold", "align": "left", "baseline": "alphabetic", "color": "black"}, "encoding": {"text": {"field": "t", "type": "nominal"}}},
{"data": {"values": [{"x":-0.349,"y":9.245,"t":"Blastocystis"},{"x":4.33,"y":9.245,"t":"Escherichia"}]}, "mark": {"type": "text", "fontSize": 16, "fontWeight": "bold", "fontStyle": "italic", "align": "left", "baseline": "alphabetic", "color": "black"}, "encoding": {"text": {"field": "t", "type": "nominal"}}},
{"data": {"values": [{"x":3.869,"y":7.379,"t":"slope = -0.9622"},{"x":3.869,"y":6.642,"t":"r2 = 0.1839"},{"x":3.869,"y":5.865,"t":"p=0.003"}]}, "mark": {"type": "text", "fontSize": 12, "align": "left", "baseline": "alphabetic", "color": "#1a1a1a"}, "encoding": {"text": {"field": "t", "type": "nominal"}}},
{"data": {"values": [{"x":-0.282,"y":-3.284,"t":"Escherischia-Shigella"}]}, "mark": {"type": "text", "fontSize": 12, "fontWeight": "bold", "fontStyle": "italic", "align": "left", "baseline": "alphabetic", "color": "black"}, "encoding": {"text": {"field": "t", "type": "nominal"}}},
{"data": {"values": [{"x":3.99,"y":-3.284,"t":"log"},{"x":5.003,"y":-3.284,"t":"counts"}]}, "mark": {"type": "text", "fontSize": 12, "fontWeight": "bold", "align": "left", "baseline": "alphabetic", "color": "black"}, "encoding": {"text": {"field": "t", "type": "nominal"}}},
{"data": {"values": [{"x":4.594,"y":-3.454,"t":"10"}]}, "mark": {"type": "text", "fontSize": 8, "fontWeight": "bold", "align": "left", "baseline": "alphabetic", "color": "black"}, "encoding": {"text": {"field": "t", "type": "nominal"}}},
{"data": {"values": [{"x":-0.9866,"y":-1.5995,"t":"Blastocystis"}]}, "mark": {"type": "text", "angle": 270, "fontSize": 12, "fontWeight": "bold", "fontStyle": "italic", "align": "left", "baseline": "alphabetic", "color": "black"}, "encoding": {"text": {"field": "t", "type": "nominal"}}},
{"data": {"values": [{"x":-0.9866,"y":2.4106,"t":"_all log"},{"x":-0.9866,"y":5.451,"t":"counts"}]}, "mark": {"type": "text", "angle": 270, "fontSize": 12, "fontWeight": "bold", "align": "left", "baseline": "alphabetic", "color": "black"}, "encoding": {"text": {"field": "t", "type": "nominal"}}},
{"data": {"values": [{"x":-0.886,"y":4.759,"t":"10"}]}, "mark": {"type": "text", "angle": 270, "fontSize": 8, "fontWeight": "bold", "align": "left", "baseline": "alphabetic", "color": "black"}, "encoding": {"text": {"field": "t", "type": "nominal"}}}
]
}
]
},
{
"width": 760, "height": 27,
"data": {"name": "key2"},
"mark": {"type": "text", "text": ""},
"encoding": {
"color": {"field": "genus", "type": "nominal",
 "scale": {"domain": ["Escherischia-Shigella","Bacteroides","Faecalibacterium","Prevotella 9"], "range": ["#1ec51e","#e8287c","#f7931e","#1a1ae6"]},
 "legend": {"orient": "none", "legendX": 37, "legendY": 7, "direction": "horizontal", "title": "Key to biplot arrows:", "titleOrient": "left", "titleAnchor": "middle", "titleBaseline": "middle", "titleFontSize": 13, "titleFontWeight": "normal", "titleColor": "black", "titlePadding": 21, "titleLimit": 0, "labelFontSize": 13, "labelFontStyle": "italic", "labelColor": "black", "labelLimit": 0, "labelOffset": 13, "columnPadding": 22, "symbolType": "M-1.7,-0.075L0.72,-0.075L0.72,-0.34L1.7,0L0.72,0.34L0.72,0.075L-1.7,0.075Z", "symbolSize": 400, "symbolStrokeWidth": 0, "symbolOpacity": 1}}
}
}
]
}
